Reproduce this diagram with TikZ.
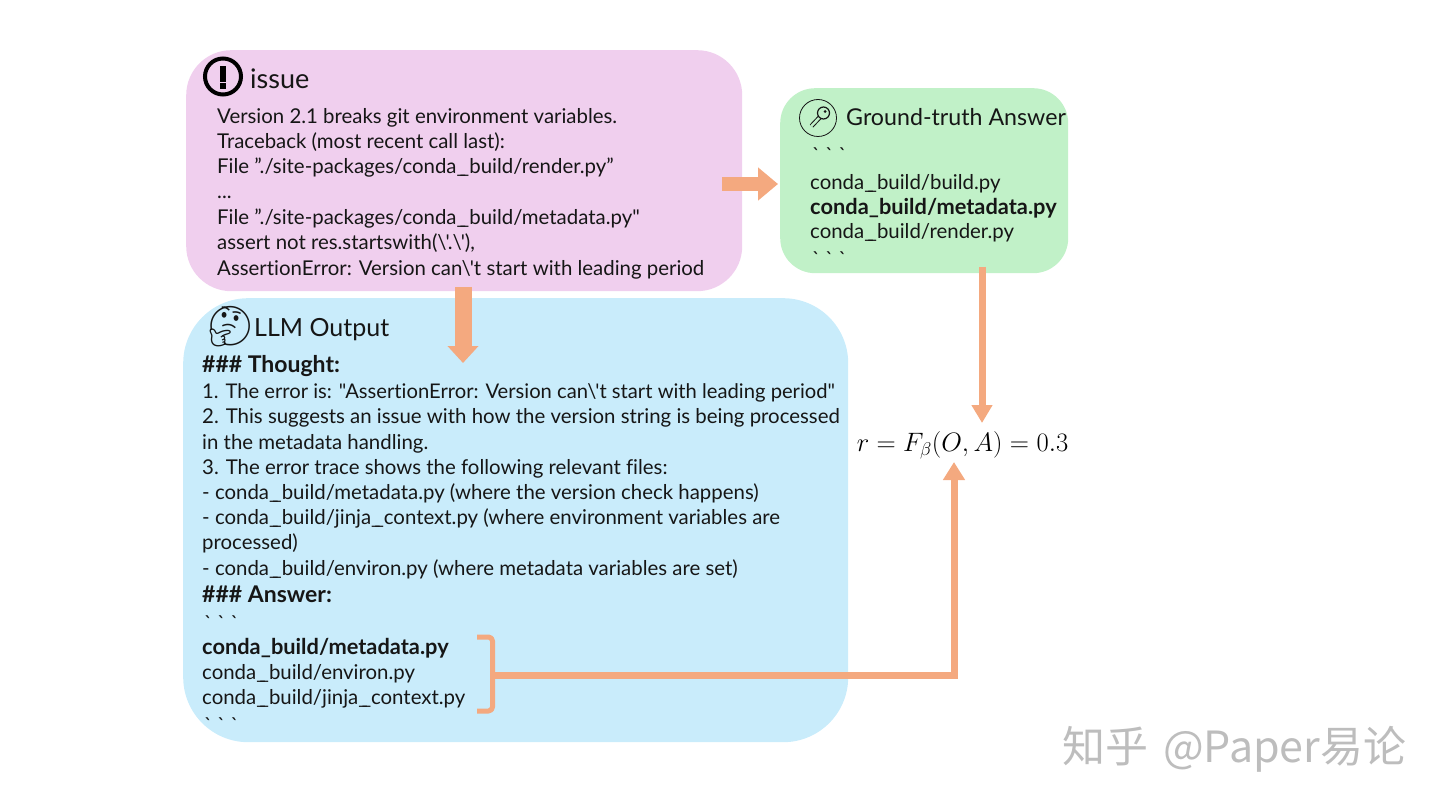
\documentclass[tikz,border=0pt]{standalone}
\usepackage{fontspec}
\newfontfamily\bodyfont[Ligatures=NoCommon]{Lato}
\newfontfamily\emojifont{Noto Emoji}
\newfontfamily\cjkfont{Noto Sans CJK SC}
\usetikzlibrary{arrows.meta}
\definecolor{pinkbox}{HTML}{F0CFEE}
\definecolor{greenbox}{HTML}{C1F1C8}
\definecolor{bluebox}{HTML}{C9ECFB}
\definecolor{arrowc}{HTML}{F4A97F}
\definecolor{inkc}{HTML}{161616}
\newcommand{\bt}{{\char96}\hspace{5pt}{\char96}\hspace{5pt}{\char96}}
\newcommand{\ap}{{\char39}}
\newcommand{\bs}{\textbackslash}
\newcommand{\us}{\_\kern-6pt\_}
\tikzset{
  x=1pt,y=-1pt,
  panel/.style={fill=#1,draw=none,inner sep=0pt,anchor=north west},
  txt/.style={anchor=base west,inner sep=0pt,text=inkc,font=\bodyfont\fontsize{20.4}{24}\selectfont},
  boldtxt/.style={txt,font=\bodyfont\fontsize{21.8}{24}\selectfont\bfseries},
  boldhead/.style={txt,font=\bodyfont\fontsize{23}{26}\selectfont\bfseries},
  head/.style={anchor=base west,inner sep=0pt,text=inkc,font=\bodyfont\fontsize{#1}{28}\selectfont},
  flow/.style={draw=arrowc,line cap=butt},
  bracketline/.style={draw=arrowc,line width=5pt,line join=round},
}
\begin{document}
\begin{tikzpicture}
\useasboundingbox (0,0) rectangle (1440,810);
% panels
\node[panel=pinkbox,rounded corners=45pt,minimum width=556pt,minimum height=241pt] (issue) at (186,50) {};
\node[panel=greenbox,rounded corners=35pt,minimum width=288pt,minimum height=185pt] (truth) at (780,88) {};
\node[panel=bluebox,rounded corners=65pt,minimum width=665pt,minimum height=444pt] (llm) at (183,298) {};
% issue panel
\node[circle,draw=black,line width=4pt,minimum size=36pt,inner sep=0pt] (warn) at (223,76.5) {};
\node[fill=black,inner sep=0pt,minimum width=6.5pt,minimum height=16pt] (warnbar) at (223,74) {};
\node[fill=black,inner sep=0pt,minimum width=6.5pt,minimum height=6pt] (warndot) at (223,86) {};
\node[head=27] (issuehead) at (250,89) {issue};
\node[txt] (i1) at (217,124) {Version 2.1 breaks git environment variables.};
\node[txt] (i2) at (217,149) {Traceback (most recent call last):};
\node[txt] (i3) at (217,174) {File ”./site-packages/conda\us build/render.py”};
\node[txt] (i4) at (217,199) {...};
\node[txt] (i5) at (217,225) {File ”./site-packages/conda\us build/metadata.py"};
\node[txt] (i6) at (217,250) {assert not res.startswith(\bs\ap.\bs\ap),};
\node[txt] (i7) at (217,276) {AssertionError: Version can\bs\ap t start with leading period};
% truth panel
\node[circle,draw=inkc,line width=0.8pt,minimum size=37pt,inner sep=0pt] (keyring) at (818,118) {};
\coordinate (keytail) at (811.5,126);
\coordinate (keyneck) at (821,116);
\draw[draw=inkc,line width=4.5pt] (keytail) -- (keyneck);
\draw[draw=greenbox,line width=2.5pt] (keytail) -- (keyneck);
\node[circle,draw=inkc,fill=greenbox,line width=1.2pt,minimum size=12pt,inner sep=0pt] (keyhead) at (823.5,113) {};
\node[circle,fill=inkc,minimum size=3pt,inner sep=0pt] (keyhole) at (825,111.5) {};
\node[head=23.2] (truthhead) at (846,126) {Ground-truth Answer};
\node[txt] (t0) at (812,163) {\bt};
\node[txt] (t1) at (810,190) {conda\us build/build.py};
\node[boldtxt] (t2) at (810,215) {conda\_build/metadata.py};
\node[txt] (t3) at (810,239) {conda\us build/render.py};
\node[txt] (t4) at (812,267) {\bt};
% llm panel
\node[inner sep=0pt,text=inkc,font=\emojifont\fontsize{39}{42}\selectfont] (think) at (230,327) {^^^^^^01f914};
\node[head=25] (llmhead) at (254,336) {LLM Output};
\node[boldhead] (l0) at (202,372) {\#\#\# Thought:};
\node[txt,font=\bodyfont\fontsize{20.2}{24}\selectfont] (l1) at (202,398) {1. The error is: "AssertionError: Version can\bs\ap t start with leading period"};
\node[txt] (l2) at (202,423) {2. This suggests an issue with how the version string is being processed};
\node[txt] (l3) at (202,449) {in the metadata handling.};
\node[txt] (l4) at (202,474) {3. The error trace shows the following relevant files:};
\node[txt] (l5) at (202,499) {- conda\us build/metadata.py (where the version check happens)};
\node[txt] (l6) at (202,524) {- conda\us build/jinja\us context.py (where environment variables are};
\node[txt] (l7) at (202,549) {processed)};
\node[txt] (l8) at (202,575) {- conda\us build/environ.py (where metadata variables are set)};
\node[boldhead] (l9) at (202,602) {\#\#\# Answer:};
\node[txt] (l10) at (204,630) {\bt};
\node[boldtxt] (a1) at (202,654) {conda\_build/metadata.py};
\node[txt] (a2) at (202,679) {conda\us build/environ.py};
\node[txt] (a3) at (202,704) {conda\us build/jinja\us context.py};
\node[txt] (a4) at (204,732) {\bt};
% formula
\node[inner sep=0pt,text=black,scale=1.07,font=\fontsize{27}{30}\selectfont] (score) at (962.5,445) {$r=F_\beta(O,A)=0.3$};
% connectors
\coordinate (issueout) at (722,184);
\coordinate (issuedown) at (463,287);
\coordinate (llmin) at (463,363);
\coordinate (truthout) at (982,267);
\coordinate (scoretop) at (982,423);
\coordinate (scorebot) at (954,462);
\coordinate (braceU) at (477,637);
\coordinate (braceUm) at (492.5,637);
\coordinate (braceLm) at (492.5,711);
\coordinate (braceL) at (477,711);
\coordinate (elbow) at (954,675);
\draw[flow,line width=14pt,-{Triangle[width=32pt,length=20pt]}] (issueout) -- ([xshift=-2pt]truth.west |- issueout);
\draw[flow,line width=17pt,-{Triangle[width=30pt,length=17pt]}] (issuedown) -- (llmin);
\draw[flow,line width=7pt,-{Triangle[width=20pt,length=18pt]}] (truthout) -- (scoretop);
\draw[flow,line width=7pt,-{Triangle[width=21pt,length=18pt]}] (braceUm |- elbow) -- (elbow) -- (scorebot);
\draw[bracketline,rounded corners=4pt] (braceU) -- (braceUm) -- (braceLm) -- (braceL);
% watermark
\node[anchor=base west,inner sep=0pt,text=black!26,font=\cjkfont\fontsize{43}{46}\selectfont] (wm) at (1062,762) {知乎\hspace{15pt}@Paper易论};
\end{tikzpicture}
\end{document}
